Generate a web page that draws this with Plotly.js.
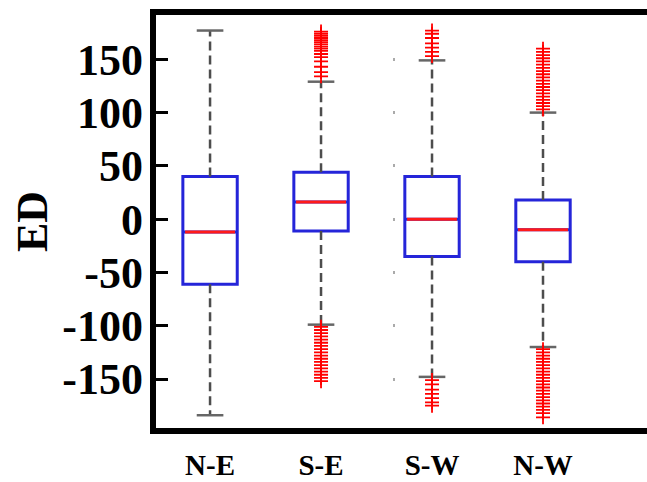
<!DOCTYPE html>
<html>
<head>
<meta charset="utf-8">
<script src="https://cdn.plot.ly/plotly-3.0.1.min.js"></script>
<style>html,body{margin:0;padding:0;background:#fff;}#chart{width:647px;height:482px;}</style>
</head>
<body>
<div id="chart"></div>
<script>
// ---- data ----
const categories = ['N-E', 'S-E', 'S-W', 'N-W'];
const q1 = [-61, -11, -35, -40];
const medians = [-12, 16, 0, -10];
const q3 = [40, 44, 40, 18];
const lowerWhisker = [-184, -99, -148, -120];
const upperWhisker = [177, 129, 149, 100];

const outliersNE = [];
const outliersSE = [134, 138, 143, 148, 152, 155, 158, 160, 162, 164, 166, 168, 170, 172, 174, 176,
                    -101, -104, -107, -110, -113, -116, -119, -122, -125, -128, -131, -134, -137, -140, -143, -146, -149, -152];
const outliersSW = [153, 157, 161, 165, 170, 174, 177,
                    -151, -155, -160, -164, -168, -172, -175];
const outliersNW = [103, 106, 109, 112, 115, 118, 121, 124, 127, 130, 133, 136, 139, 142, 145, 148, 151, 154, 157, 160,
                    -122, -125, -128, -131, -134, -137, -140, -143, -146, -149, -152, -155, -158, -161, -164, -167, -170, -173, -176, -179, -182, -186];
const outliers = [outliersNE, outliersSE, outliersSW, outliersNW];

const yTickVals = [-150, -100, -50, 0, 50, 100, 150];
const yTickText = ['-150', '-100', '-50', '0', '50', '100', '150'];
const yTitle = 'ED';

// ---- styling ----
const BOX_W = 0.49;
const CAP_HALF = 0.12;
const serif = 'Liberation Serif, Times New Roman, serif';

const traces = [];
categories.forEach((c, i) => {
  // dashed whiskers
  traces.push({
    type: 'scatter', mode: 'lines', x: [i, i, null, i, i],
    y: [q3[i], upperWhisker[i], null, q1[i], lowerWhisker[i]],
    line: {color: '#4d4d4d', width: 2.5, dash: '9px,5px'},
    hoverinfo: 'skip', showlegend: false
  });
});
categories.forEach((c, i) => {
  // box body
  traces.push({
    type: 'box', x: [i], q1: [q1[i]], median: [medians[i]], q3: [q3[i]],
    lowerfence: [q1[i]], upperfence: [q3[i]], width: BOX_W, whiskerwidth: 0,
    line: {color: '#2525d9', width: 3}, fillcolor: 'rgba(255,255,255,0)',
    boxpoints: false, hoverinfo: 'skip', showlegend: false
  });
  // median
  traces.push({
    type: 'scatter', mode: 'lines', x: [i - BOX_W / 2 + 0.02, i + BOX_W / 2 - 0.02],
    y: [medians[i], medians[i]], line: {color: '#ff1a1a', width: 3},
    hoverinfo: 'skip', showlegend: false
  });
  // caps
  traces.push({
    type: 'scatter', mode: 'lines',
    x: [i - CAP_HALF, i + CAP_HALF, null, i - CAP_HALF, i + CAP_HALF],
    y: [upperWhisker[i], upperWhisker[i], null, lowerWhisker[i], lowerWhisker[i]],
    line: {color: '#666666', width: 2.5}, hoverinfo: 'skip', showlegend: false
  });
  // outliers
  traces.push({
    type: 'scatter', mode: 'markers', x: outliers[i].map(() => i), y: outliers[i],
    marker: {symbol: 'cross-thin-open', size: 10, color: '#ff0000', line: {color: '#ff0000', width: 1.8}},
    hoverinfo: 'skip', showlegend: false
  });
});
// empty trace so the faint secondary tick axis is drawn
traces.push({type: 'scatter', mode: 'markers', x: [null], y: [null], yaxis: 'y2', hoverinfo: 'skip', showlegend: false});

const layout = {
  width: 647, height: 482,
  margin: {l: 153, r: 0, t: 12, b: 51},
  paper_bgcolor: '#ffffff', plot_bgcolor: '#ffffff',
  showlegend: false,
  xaxis: {
    range: [-0.514, 3.937], tickmode: 'array',
    tickvals: categories.map((c, i) => i), ticktext: categories,
    showgrid: false, zeroline: false, showline: false, ticks: '',
    tickfont: {family: serif, size: 29, color: '#000', weight: 'bold'},
    ticklabelstandoff: 14, fixedrange: true
  },
  yaxis: {
    range: [-198.8, 194.4], tickmode: 'array', tickvals: yTickVals, ticktext: yTickText,
    showgrid: false, zeroline: false, showline: false,
    ticks: 'inside', ticklen: 15, tickwidth: 3, tickcolor: '#000',
    tickfont: {family: serif, size: 44, color: '#000', weight: 'bold'},
    ticklabelstandoff: 9,
    title: {text: yTitle, font: {family: serif, size: 44, color: '#000', weight: 'bold'}, standoff: 0},
    automargin: false, fixedrange: true
  },
  yaxis2: {
    overlaying: 'y', anchor: 'free', position: 0.49, side: 'left',
    range: [-198.8, 194.4], tickmode: 'array', tickvals: yTickVals,
    showticklabels: false, showgrid: false, zeroline: false, showline: false,
    ticks: 'outside', ticklen: 2, tickwidth: 3, tickcolor: '#aaaaaa', fixedrange: true
  },
  shapes: [
    {type: 'rect', xref: 'paper', yref: 'paper', x0: 0, x1: 1.2, y0: 0, y1: 1,
     line: {color: '#000', width: 6}, fillcolor: 'rgba(0,0,0,0)', layer: 'above'}
  ]
};

Plotly.newPlot('chart', traces, layout, {displayModeBar: false, staticPlot: true});
</script>
</body>
</html>
